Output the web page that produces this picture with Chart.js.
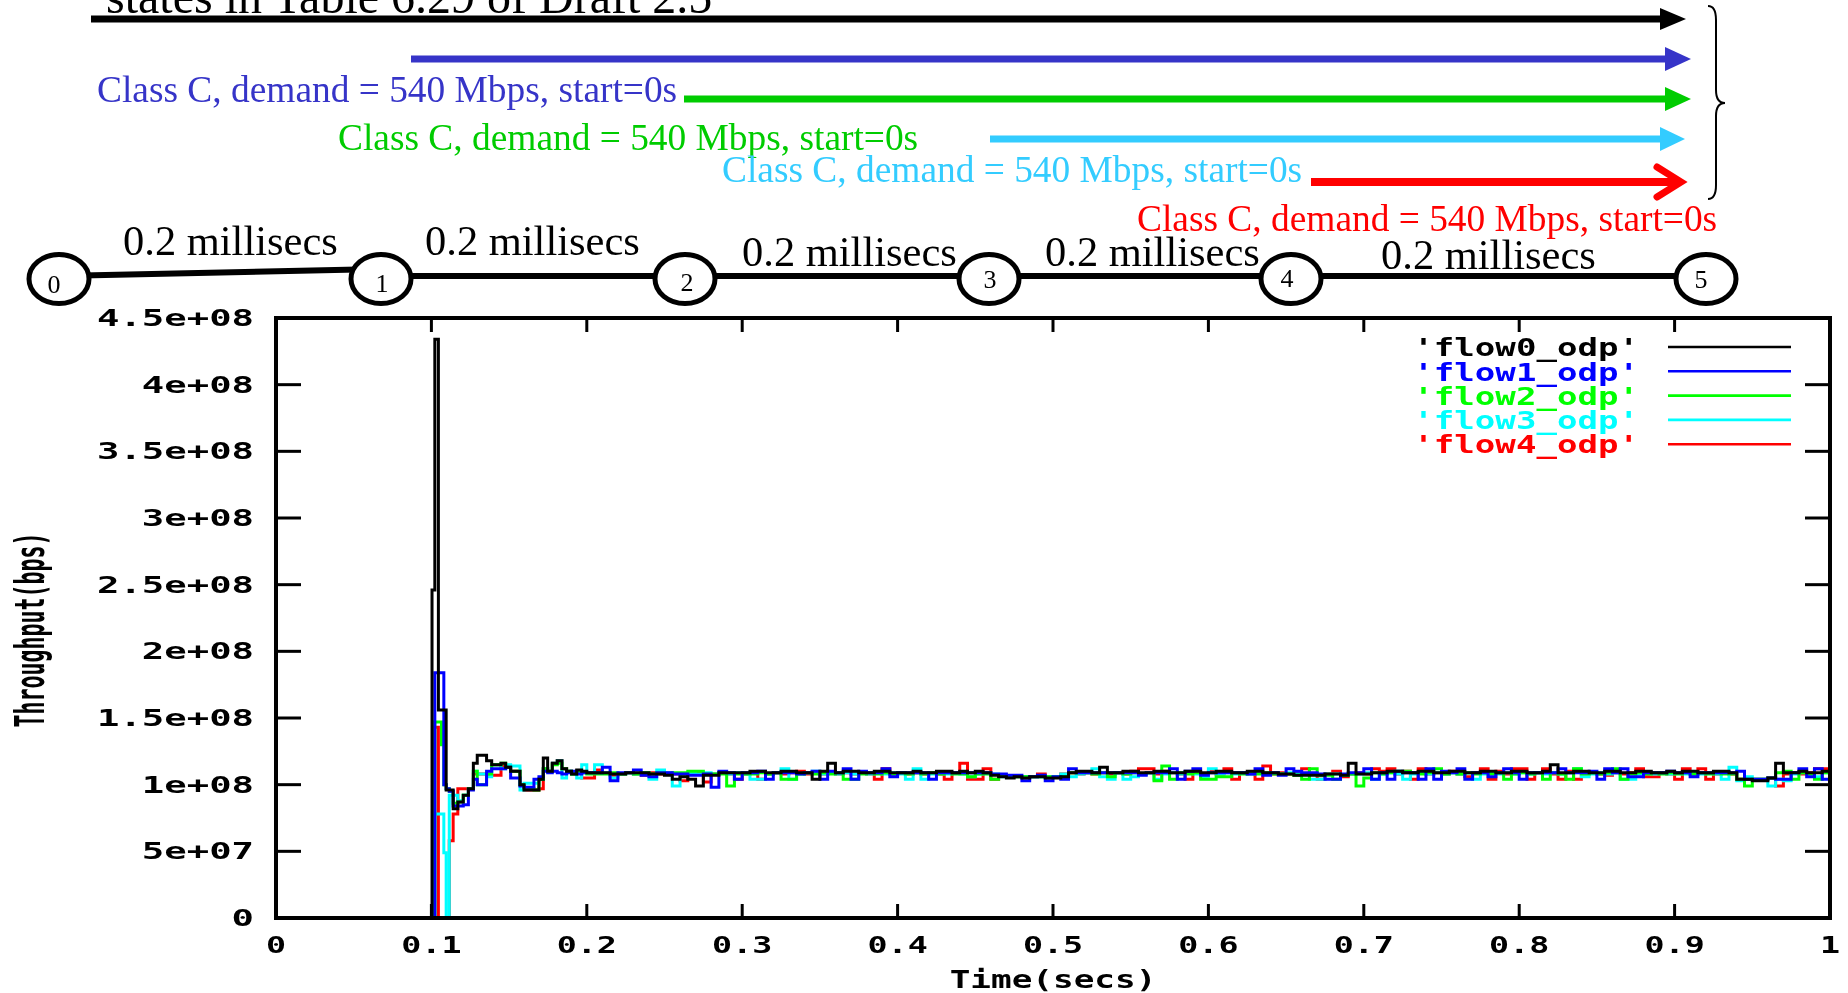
<!DOCTYPE html>
<html><head><meta charset="utf-8">
<script src="https://cdn.jsdelivr.net/npm/chart.js@4.4.1/dist/chart.umd.min.js"></script>
<style>
html,body{margin:0;padding:0;background:#fff;width:1848px;height:993px;overflow:hidden}
#c{position:absolute;left:0;top:0}
#diag{position:absolute;left:0;top:0}
</style></head><body>
<canvas id="c" width="1848" height="993"></canvas>
<svg id="diag" width="1848" height="312" font-family="'Liberation Serif','Times New Roman',serif">
 <text x="106" y="13" font-size="48" fill="#000">states in Table 6.29 of Draft 2.5</text>
 <line x1="91" y1="19" x2="1664" y2="19" stroke="#000" stroke-width="7"/>
 <polygon points="1660,8 1686,19 1660,30" fill="#000"/>
 <line x1="411" y1="59" x2="1668" y2="59" stroke="#3634c8" stroke-width="7"/>
 <polygon points="1665,47 1691,59 1665,71" fill="#3634c8"/>
 <text x="97" y="101.5" font-size="37.4" fill="#3634c8">Class C, demand = 540 Mbps, start=0s</text>
 <line x1="684" y1="99" x2="1668" y2="99" stroke="#00cc00" stroke-width="7"/>
 <polygon points="1665,87 1691,99 1665,111" fill="#00cc00"/>
 <text x="338" y="149.5" font-size="37.4" fill="#00cc00">Class C, demand = 540 Mbps, start=0s</text>
 <line x1="990" y1="139" x2="1662" y2="139" stroke="#33ccff" stroke-width="7"/>
 <polygon points="1660,127 1685,139 1660,151" fill="#33ccff"/>
 <text x="722" y="181.5" font-size="37.4" fill="#33ccff">Class C, demand = 540 Mbps, start=0s</text>
 <line x1="1311" y1="182" x2="1680" y2="182" stroke="#ff0000" stroke-width="8"/>
 <polyline points="1657,167 1681,182 1657,197" fill="none" stroke="#ff0000" stroke-width="7" stroke-linecap="round"/>
 <text x="1137" y="230.5" font-size="37.4" fill="#ff0000">Class C, demand = 540 Mbps, start=0s</text>
 <path d="M1708,6 Q1716,6 1716,20 L1716,90 Q1716,103 1725,103 Q1716,103 1716,116 L1716,185 Q1716,199 1708,199" fill="none" stroke="#000" stroke-width="2"/>
 <line x1="59" y1="276" x2="381" y2="269" stroke="#000" stroke-width="6"/>
 <line x1="381" y1="276" x2="1706" y2="276" stroke="#000" stroke-width="6"/>
 <g fill="#fff" stroke="#000" stroke-width="5">
  <ellipse cx="59" cy="279" rx="30" ry="24.5"/>
  <ellipse cx="381" cy="279" rx="30" ry="24.5"/>
  <ellipse cx="685" cy="279" rx="30" ry="24.5"/>
  <ellipse cx="989" cy="279" rx="30" ry="24.5"/>
  <ellipse cx="1291" cy="279" rx="30" ry="24.5"/>
  <ellipse cx="1706" cy="279" rx="30" ry="24.5"/>
 </g>
 <g font-size="26" fill="#000" text-anchor="middle">
  <text x="54" y="293">0</text><text x="382" y="292">1</text><text x="687" y="291">2</text>
  <text x="990" y="288">3</text><text x="1287" y="287">4</text><text x="1701" y="288">5</text>
 </g>
 <g font-size="42.5" fill="#000">
  <text x="123" y="255">0.2 millisecs</text><text x="425" y="255">0.2 millisecs</text>
  <text x="742" y="266">0.2 millisecs</text><text x="1045" y="266">0.2 millisecs</text>
  <text x="1381" y="269">0.2 millisecs</text>
 </g>
</svg>
<script>
// time (s)
const times = [0, 0.1004, 0.1022, 0.1045, 0.1065, 0.108, 0.1095, 0.1115, 0.114, 0.117,
 0.1205, 0.1238, 0.127, 0.1295, 0.1355, 0.1388, 0.1448, 0.1478, 0.151, 0.157,
 0.1596, 0.166, 0.1692, 0.172, 0.1748, 0.1778, 0.181, 0.184, 0.187, 0.1902,
 0.1935, 0.1967, 0.2,
 0.205,0.21,0.215,0.22,0.225,0.23,0.235,0.24,0.245,0.25,0.255,0.26,0.265,0.27,0.275,0.28,0.285,0.29,0.295,0.30,
 0.305,0.31,0.315,0.32,0.325,0.33,0.335,0.34,0.345,0.35,0.355,0.36,0.365,0.37,0.375,0.38,0.385,0.39,0.395,0.40,
 0.405,0.41,0.415,0.42,0.425,0.43,0.435,0.44,0.445,0.45,0.455,0.46,0.465,0.47,0.475,0.48,0.485,0.49,0.495,0.50,
 0.505,0.51,0.515,0.52,0.525,0.53,0.535,0.54,0.545,0.55,0.555,0.56,0.565,0.57,0.575,0.58,0.585,0.59,0.595,0.60,
 0.605,0.61,0.615,0.62,0.625,0.63,0.635,0.64,0.645,0.65,0.655,0.66,0.665,0.67,0.675,0.68,0.685,0.69,0.695,0.70,
 0.705,0.71,0.715,0.72,0.725,0.73,0.735,0.74,0.745,0.75,0.755,0.76,0.765,0.77,0.775,0.78,0.785,0.79,0.795,0.80,
 0.805,0.81,0.815,0.82,0.825,0.83,0.835,0.84,0.845,0.85,0.855,0.86,0.865,0.87,0.875,0.88,0.885,0.89,0.895,0.90,
 0.905,0.91,0.915,0.92,0.925,0.93,0.935,0.94,0.945,0.95,0.955,0.96,0.965,0.97,0.975,0.98,0.985,0.99,0.995,1.00];
// throughput (Mbps)
const flow0 = [0,246,434,156,156,156,96,96,82,87,92,97,116,122,118,115,116,113,110,100,96,96,104,120,110,116,118,112,110,108,111,110,109,
 109,109,108,108,109,109,109,108,108,107,104,106,104,99,107,107,109,109,109,109,
 110,110,109,109,110,110,109,109,104,110,116,109,110,110,109,109,110,110,109,109,
 109,110,109,109,110,110,109,110,109,110,109,107,106,105,106,105,106,106,105,105,
 106,109,110,110,109,113,109,109,110,110,109,109,110,110,109,109,110,110,109,109,
 110,110,109,109,110,110,109,109,108,108,107,107,107,107,108,108,107,116,108,108,
 109,109,110,110,109,109,110,110,109,109,110,110,109,109,110,110,109,109,110,110,
 109,109,110,115,109,109,110,110,109,109,110,110,109,109,110,110,109,109,110,109,
 110,110,109,109,110,110,109,104,104,103,103,105,116,109,109,110,109,109,110,109];
const flow1 = [0,0,184,184,184,100,97,95,84,84,85,96,104,100,110,112,112,113,105,99,98,104,106,110,109,110,109,108,109,110,108,109,109,
 109,113,103,109,109,111,107,106,109,109,108,108,107,107,108,98,110,109,104,109,
 109,110,104,109,109,109,108,109,110,104,110,109,112,104,110,109,109,112,106,109,
 109,109,109,104,109,109,109,109,109,109,109,108,108,107,107,103,106,107,103,106,
 104,112,109,109,109,109,109,109,109,109,107,109,109,109,112,104,110,112,107,109,
 109,109,109,109,108,112,107,109,107,112,110,109,109,108,104,104,108,109,109,112,
 104,109,104,110,109,109,104,112,104,110,109,112,104,109,109,106,109,112,109,104,
 109,109,109,109,112,109,109,109,110,104,112,109,112,106,106,109,109,109,110,109,
 109,106,109,109,109,109,109,110,104,104,104,105,104,104,109,112,106,112,104,104];
const flow2 = [0,0,147,147,130,100,97,95,86,87,92,97,110,100,108,115,116,113,110,100,97,96,104,112,110,115,116,112,110,108,110,109,108,
 108,108,109,108,109,108,109,108,109,108,109,109,110,110,108,108,108,99,108,108,
 108,109,108,109,104,104,108,109,108,109,108,109,104,104,108,109,108,109,108,109,
 108,109,108,109,108,109,108,108,106,108,108,104,107,106,106,106,106,106,106,106,
 106,109,109,109,108,109,106,109,108,109,108,109,103,114,104,109,108,109,104,104,
 106,106,109,108,109,108,109,108,108,108,107,104,112,107,107,104,107,108,99,105,
 109,108,109,110,110,109,108,109,112,108,109,108,109,108,109,108,109,104,108,109,
 108,109,104,109,108,104,112,108,109,108,109,112,104,108,109,108,109,108,109,108,
 109,108,109,108,109,108,108,104,99,104,104,105,109,110,104,109,108,104,109,108];
const flow3 = [0,0,78,78,78,49,0,92,92,88,92,97,110,108,106,115,112,115,114,96,101,101,104,112,110,116,118,105,110,108,105,115,109,
 115,109,105,108,109,108,109,104,111,109,99,108,109,108,109,108,109,108,109,108,
 104,104,108,109,112,104,108,109,110,108,109,108,109,108,109,108,109,108,109,108,
 104,112,104,108,109,108,109,108,106,108,109,108,106,106,106,106,106,106,106,106,
 108,106,108,109,112,106,104,109,104,106,108,109,104,108,109,108,109,108,106,112,
 108,109,108,109,108,109,108,109,108,109,108,108,104,104,108,108,107,108,108,109,
 104,108,109,108,104,108,109,108,109,108,109,108,109,104,108,109,108,109,108,109,
 108,109,108,109,108,109,112,106,108,109,108,109,104,104,108,109,108,109,108,109,
 108,109,108,109,108,104,113,103,106,104,104,99,104,103,108,109,108,106,109,108];
const flow4 = [0,0,143,0,0,0,0,58,78,97,97,97,108,108,107,107,114,113,110,100,96,96,97,112,110,116,118,112,110,108,110,105,105,
 111,109,107,108,109,108,107,109,108,109,108,103,108,109,102,108,109,108,104,108,
 109,104,108,109,108,109,110,108,109,108,109,108,109,108,109,108,104,112,108,109,
 108,109,108,109,108,104,109,116,104,104,112,104,107,106,106,106,106,108,106,106,
 108,109,108,109,108,109,108,109,108,110,112,112,108,110,109,108,104,109,108,110,
 108,112,104,109,108,104,114,108,109,108,109,112,108,104,108,110,106,108,109,108,
 112,110,112,108,110,104,112,108,109,108,110,108,106,109,112,104,110,108,112,112,
 104,109,112,108,104,110,104,108,109,108,107,109,108,109,112,106,106,109,108,104,
 112,108,112,104,108,109,108,104,104,104,104,105,99,108,109,108,109,112,112,109];
const seriesNames = ["'flow0_odp'", "'flow1_odp'", "'flow2_odp'", "'flow3_odp'", "'flow4_odp'"];
const seriesColors = ['#000000', '#0000ff', '#00ff00', '#00ffff', '#ff0000'];
const xTickLabels = ['0','0.1','0.2','0.3','0.4','0.5','0.6','0.7','0.8','0.9','1'];
const yTickLabels = ['0','5e+07','1e+08','1.5e+08','2e+08','2.5e+08','3e+08','3.5e+08','4e+08','4.5e+08'];
const xTitle = 'Time(secs)';
const yTitle = 'Throughput(bps)';

const allFlows = [flow0, flow1, flow2, flow3, flow4];
const datasets = allFlows.map((f, k) => ({
  label: seriesNames[k],
  data: times.map((t, i) => ({x: t, y: f[i]})),
  borderColor: seriesColors[k],
  backgroundColor: seriesColors[k],
  borderWidth: 3,
  pointRadius: 0,
  stepped: true,
  fill: false
}));

const MONO = '"DejaVu Sans Mono","Liberation Mono",monospace';
function sText(ctx, text, x, y, sx, align, size, color, rot) {
  ctx.save();
  ctx.translate(x, y);
  if (rot) ctx.rotate(rot);
  ctx.scale(sx, 1);
  ctx.font = 'bold ' + size + 'px ' + MONO;
  ctx.fillStyle = color;
  ctx.textAlign = align;
  ctx.textBaseline = 'middle';
  ctx.fillText(text, 0, 0);
  ctx.restore();
}

const framePlugin = {
  id: 'frame',
  afterDatasetsDraw(chart) {
    const ctx = chart.ctx, a = chart.chartArea, xs = chart.scales.x, ys = chart.scales.y;
    ctx.save();
    ctx.strokeStyle = '#000';
    ctx.lineWidth = 3;
    const seg = (x1, y1, x2, y2) => { ctx.beginPath(); ctx.moveTo(x1, y1); ctx.lineTo(x2, y2); ctx.stroke(); };
    xs.ticks.forEach(t => {
      const px = xs.getPixelForValue(t.value);
      seg(px, a.bottom, px, a.bottom - 14);
      seg(px, a.top, px, a.top + 14);
      const lbl = xTickLabels[Math.round(t.value * 10)];
      sText(ctx, lbl, px, 947, 1.45, 'center', 23, '#000');
    });
    ys.ticks.forEach(t => {
      const py = ys.getPixelForValue(t.value);
      seg(a.left, py, a.left + 25, py);
      seg(a.right, py, a.right - 25, py);
      const lbl = yTickLabels[Math.round(t.value / 50)];
      sText(ctx, lbl, 254, py + 2, 1.62, 'right', 23, '#000');
    });
    ctx.lineWidth = 4;
    ctx.strokeRect(a.left, a.top, a.right - a.left, a.bottom - a.top);
    sText(ctx, xTitle, (a.left + a.right) / 2, 982, 1.43, 'center', 24, '#000');
    sText(ctx, yTitle, 34, 630, 0.54, 'center', 40, '#000', -Math.PI / 2);
    chart.data.datasets.forEach((d, k) => {
      const ly = 347 + k * 24.3;
      sText(ctx, d.label, 1639, ly + 3, 1.42, 'right', 24, d.borderColor);
      ctx.strokeStyle = d.borderColor;
      ctx.lineWidth = 2.6;
      seg(1668, ly, 1791, ly);
    });
    ctx.restore();
  }
};

new Chart(document.getElementById('c'), {
  type: 'line',
  data: { datasets },
  plugins: [framePlugin],
  options: {
    responsive: false,
    animation: false,
    devicePixelRatio: 1,
    layout: { padding: { left: 0, right: 18, top: 318, bottom: 0 } },
    plugins: { legend: { display: false }, tooltip: { enabled: false } },
    scales: {
      x: { type: 'linear', min: 0, max: 1,
           ticks: { display: false, stepSize: 0.1 },
           grid: { display: false }, border: { display: false },
           afterFit(s) { s.height = 75; } },
      y: { min: 0, max: 450,
           ticks: { display: false, stepSize: 50 },
           grid: { display: false }, border: { display: false },
           afterFit(s) { s.width = 276; } }
    }
  }
});
</script>
</body></html>
